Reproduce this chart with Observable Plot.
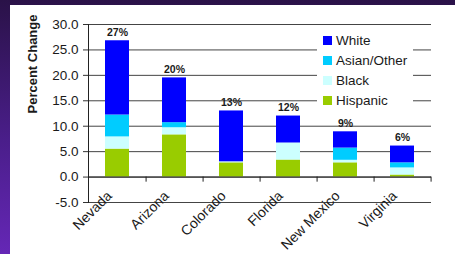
<!DOCTYPE html>
<html>
<head>
<meta charset="utf-8">
<script src="https://cdn.jsdelivr.net/npm/d3@7"></script>
<script src="https://cdn.jsdelivr.net/npm/@observablehq/plot@0.6"></script>
<style>
  html, body { margin: 0; padding: 0; }
  body { width: 455px; height: 254px; overflow: hidden; position: relative;
         background: linear-gradient(to bottom, #2a1248 0%, #4a1e8a 55%, #6527b6 100%);
         font-family: "Liberation Sans", Arial, sans-serif; }
  #panel { position: absolute; left: 10px; top: 5px; width: 445px; height: 249px; background: #fff; }
  #legend { position: absolute; left: 317px; top: 29px; width: 96px; height: 78px; background: #fff;
            font-size: 13.5px; color: #1a1a1a; }
  .item { position: absolute; left: 6px; height: 14px; display: flex; align-items: center; }
  .sw { width: 9px; height: 9px; margin-right: 4px; }
</style>
</head>
<body>
<div id="panel"></div>
<div id="legend"></div>
<script>
const states = ["Nevada", "Arizona", "Colorado", "Florida", "New Mexico", "Virginia"];
const hispanic = [5.5, 8.3, 2.8, 3.35, 2.8, 0.4];
const black    = [2.4, 1.4, 0.2, 3.35, 0.5, 1.4];
const asian    = [4.3, 1.0, 0.0, 0.0, 2.4, 1.0];
const white    = [14.6, 8.8, 10.0, 5.3, 3.2, 3.3];
const totalLabels = ["27%", "20%", "13%", "12%", "9%", "6%"];
const groups = ["Hispanic", "Black", "Asian/Other", "White"];
const groupColors = ["#99cc00", "#ccffff", "#00ccff", "#0000ff"];
const yTicks = [-5, 0, 5, 10, 15, 20, 25, 30];

const series = [hispanic, black, asian, white];
const rows = [];
states.forEach((s, i) => groups.forEach((g, j) => rows.push({state: s, group: g, value: series[j][i]})));
const totals = states.map((s, i) => d3.sum(series, a => a[i]));

const W = 445, H = 249, mL = 78, mR = 24, mT = 19, mB = 52;
const step = (W - mL - mR) / states.length;

const chart = Plot.plot({
  width: W, height: H,
  marginLeft: mL, marginRight: mR, marginTop: mT, marginBottom: mB,
  style: {background: "#fff", fontFamily: "Liberation Sans, Arial, sans-serif", color: "#1a1a1a"},
  x: {domain: states, paddingInner: 0.58, paddingOuter: 0.29, axis: null},
  y: {domain: [-5, 30]},
  color: {domain: groups, range: groupColors},
  marks: [
    Plot.gridY(yTicks, {stroke: "#444", strokeOpacity: 1}),
    Plot.axisY(yTicks, {tickSize: 5, tickPadding: 5, tickFormat: d => d.toFixed(1), fontSize: 13.5, label: null, stroke: "#333"}),
    Plot.frame({anchor: "left", stroke: "#222"}),
    Plot.barY(rows, {x: "state", y: "value", fill: "group"}),
    Plot.ruleY([0], {stroke: "#222"}),
    Plot.ruleX(states, {x: d => d, y1: 0, y2: -1, dx: step / 2, stroke: "#222"}),
    Plot.text(states, {x: d => d, frameAnchor: "bottom", rotate: -45, textAnchor: "end", lineAnchor: "middle",
                       dx: -8, dy: -9, fontSize: 14}),
    Plot.text(states, {x: d => d, y: (d, i) => totals[i], text: (d, i) => totalLabels[i], dy: -5,
                       lineAnchor: "bottom", fontWeight: "bold", fontSize: 10.5}),
    Plot.text(["Percent Change"], {frameAnchor: "left", rotate: -90, dx: -56, fontWeight: "bold", fontSize: 13})
  ]
});
document.getElementById("panel").appendChild(chart);

const legend = document.getElementById("legend");
const order = [3, 2, 1, 0];
order.forEach((j, k) => {
  const it = document.createElement("div");
  it.className = "item";
  it.style.top = (4 + k * 20.3) + "px";
  it.innerHTML = `<span class="sw" style="background:${groupColors[j]}"></span><span>${groups[j]}</span>`;
  legend.appendChild(it);
});
</script>
</body>
</html>
